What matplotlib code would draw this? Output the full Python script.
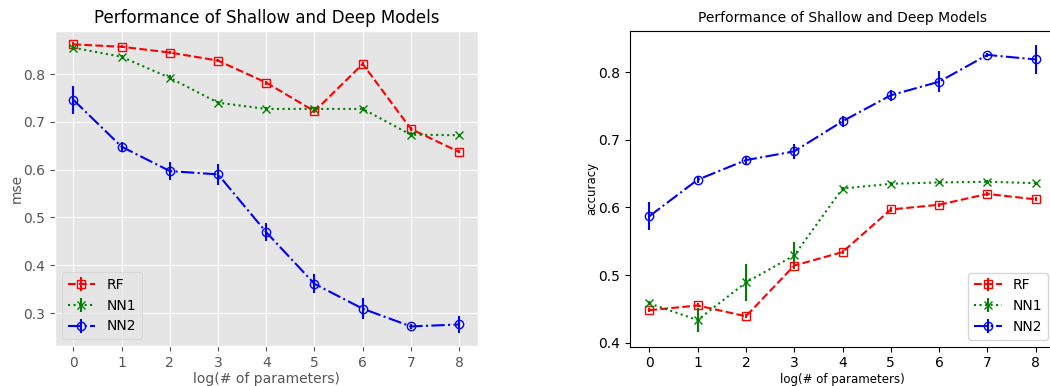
import matplotlib
matplotlib.use('Agg')
import numpy as np
import matplotlib.pyplot as plt

# log(# of parameters)
x = [0, 1, 2, 3, 4, 5, 6, 7, 8]

# left panel: mse
rf_mse = [0.862, 0.857, 0.845, 0.828, 0.782, 0.722, 0.821, 0.685, 0.637]
rf_mse_err = [0.004, 0.003, 0.003, 0.003, 0.004, 0.004, 0.004, 0.004, 0.003]
nn1_mse = [0.855, 0.836, 0.792, 0.740, 0.727, 0.727, 0.727, 0.673, 0.672]
nn1_mse_err = [0.004, 0.004, 0.005, 0.004, 0.003, 0.003, 0.003, 0.005, 0.003]
nn2_mse = [0.746, 0.648, 0.597, 0.590, 0.469, 0.361, 0.309, 0.272, 0.276]
nn2_mse_err = [0.029, 0.010, 0.019, 0.022, 0.019, 0.020, 0.022, 0.005, 0.017]

# right panel: accuracy
rf_acc = [0.448, 0.455, 0.439, 0.514, 0.534, 0.597, 0.604, 0.620, 0.612]
rf_acc_err = [0.003, 0.003, 0.003, 0.004, 0.003, 0.003, 0.003, 0.003, 0.003]
nn1_acc = [0.458, 0.4335, 0.489, 0.529, 0.628, 0.635, 0.637, 0.638, 0.636]
nn1_acc_err = [0.003, 0.018, 0.028, 0.020, 0.003, 0.002, 0.002, 0.002, 0.002]
nn2_acc = [0.587, 0.641, 0.670, 0.683, 0.7275, 0.766, 0.786, 0.8257, 0.819]
nn2_acc_err = [0.0205, 0.005, 0.005, 0.011, 0.008, 0.008, 0.0155, 0.003, 0.021]

title = 'Performance of Shallow and Deep Models'
xlabel = 'log(# of parameters)'

fig = plt.figure(figsize=(10.5, 3.86), dpi=100)


def draw(ax, rf, rf_err, nn1, nn1_err, nn2, nn2_err):
    ax.errorbar(x, rf, yerr=rf_err, fmt='s--', color='red', mfc='none', label='RF')
    ax.errorbar(x, nn1, yerr=nn1_err, fmt='x:', color='green', label='NN1')
    ax.errorbar(x, nn2, yerr=nn2_err, fmt='o-.', color='blue', mfc='none', label='NN2')
    ax.set_xticks(x)


# left panel in ggplot look, right panel in the plain default look
with plt.style.context('ggplot'):
    ax1 = fig.add_axes([55/1050, 40/386, 423/1050, 315/386])
    draw(ax1, rf_mse, rf_mse_err, nn1_mse, nn1_mse_err, nn2_mse, nn2_mse_err)
    ax1.set_xlim(-0.38, 8.39)
    ax1.set_ylim(0.231, 0.89)
    ax1.set_title(title, fontsize=12)
    ax1.set_ylabel('mse', fontsize=10, labelpad=0)
    ax1.set_xlabel(xlabel, fontsize=10, labelpad=2)
    ax1.legend(loc='lower left')

ax2 = fig.add_axes([630/1050, 39.3/386, 425/1050, 316/386])
draw(ax2, rf_acc, rf_acc_err, nn1_acc, nn1_acc_err, nn2_acc, nn2_acc_err)
ax2.set_xlim(-0.4, 8.4)
ax2.set_ylim(0.394, 0.8615)
ax2.set_title(title, fontsize=10)
ax2.set_ylabel('accuracy', fontsize=8.5, labelpad=0)
ax2.set_xlabel(xlabel, fontsize=8.5, labelpad=2)
ax2.legend(loc='lower right')

fig.savefig('out.png', dpi=100)
